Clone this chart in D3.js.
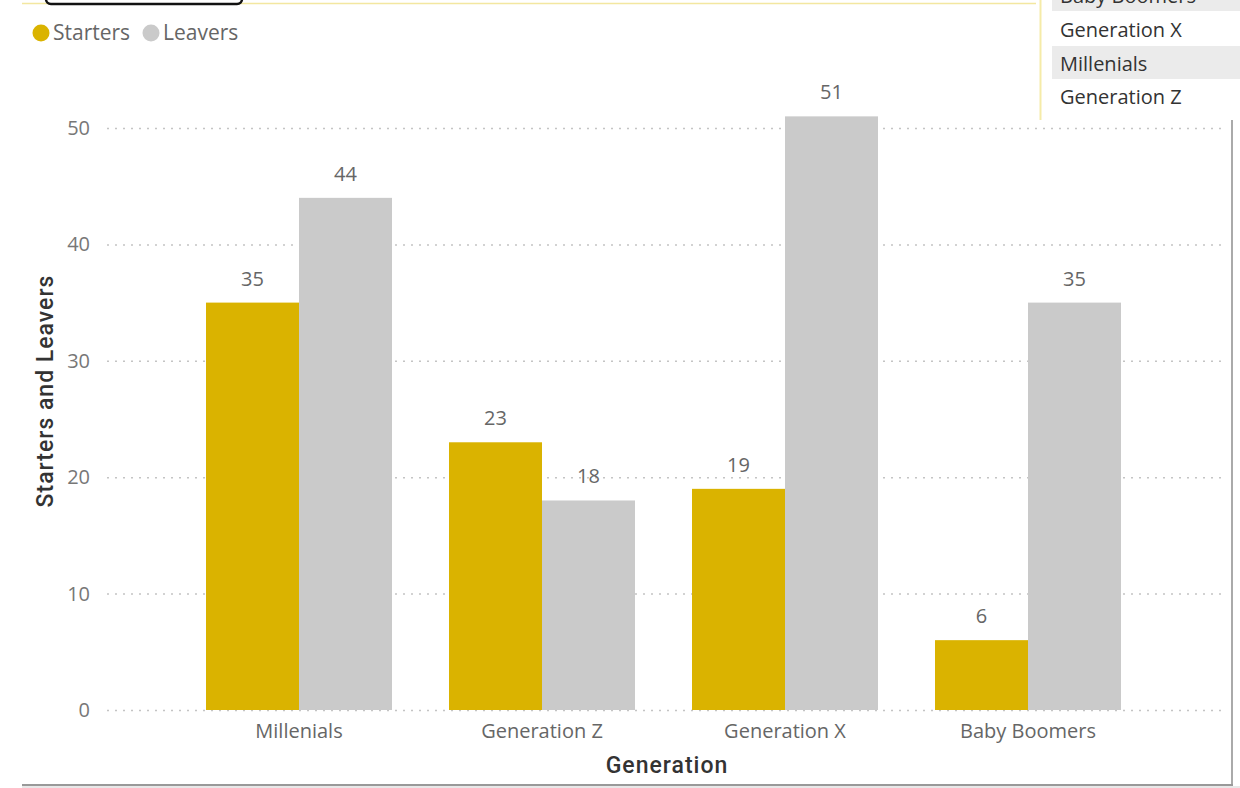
<!DOCTYPE html>
<html>
<head>
<meta charset="utf-8">
<script src="https://cdnjs.cloudflare.com/ajax/libs/d3/7.8.5/d3.min.js"></script>
<style>
  body { margin: 0; background: #fff; }
  svg { display: block; font-family: 'Open Sans', 'Noto Sans', sans-serif; }
</style>
</head>
<body>
<div id="chart"></div>
<script>
const generations = ['Millenials', 'Generation Z', 'Generation X', 'Baby Boomers'];
const starters = [35, 23, 19, 6];
const leavers = [44, 18, 51, 35];
const seriesNames = ['Starters', 'Leavers'];
const yTicks = [0, 10, 20, 30, 40, 50];
const slicerItems = ['Baby Boomers', 'Generation X', 'Millenials', 'Generation Z'];

const width = 1240;
const height = 788;
const colors = ['#dab300', '#cacaca'];

const svg = d3.select('#chart').append('svg')
  .attr('width', width)
  .attr('height', height);

// frame bits from the report canvas
svg.append('line')
  .attr('x1', 22).attr('x2', 1036).attr('y1', 3.5).attr('y2', 3.5)
  .attr('stroke', '#f3e7a0').attr('stroke-width', 1.5);
svg.append('rect')
  .attr('x', 46).attr('y', -20).attr('width', 196).attr('height', 24)
  .attr('rx', 5).attr('fill', '#fff').attr('stroke', '#111').attr('stroke-width', 2.5);
svg.append('line')
  .attr('x1', 1232).attr('x2', 1232).attr('y1', 120).attr('y2', 786)
  .attr('stroke', '#aaa').attr('stroke-width', 2);
svg.append('line')
  .attr('x1', 22).attr('x2', 1233).attr('y1', 785).attr('y2', 785)
  .attr('stroke', '#999').attr('stroke-width', 2);
svg.append('rect')
  .attr('x', 22).attr('y', 786).attr('width', 1218).attr('height', 2)
  .attr('fill', '#e8e8e8');

// slicer panel
const slicer = svg.append('g');
slicer.append('line')
  .attr('x1', 1040.5).attr('x2', 1040.5).attr('y1', 0).attr('y2', 120)
  .attr('stroke', '#f5eba8').attr('stroke-width', 2);
const rowY = [-22, 12, 46, 79];
slicerItems.forEach((name, i) => {
  if (i % 2 === 0) {
    slicer.append('rect')
      .attr('x', 1052).attr('y', rowY[i]).attr('width', 188).attr('height', 33)
      .attr('fill', '#ebebeb');
  }
  slicer.append('text')
    .attr('x', 1060).attr('y', rowY[i] + 25)
    .attr('font-size', 20).attr('fill', '#333')
    .text(name);
});

// legend
const legend = svg.append('g');
const legendX = [41, 151];
seriesNames.forEach((name, i) => {
  legend.append('circle')
    .attr('cx', legendX[i]).attr('cy', 33).attr('r', 8.5)
    .attr('fill', colors[i]);
  legend.append('text')
    .attr('x', legendX[i] + 12).attr('y', 40)
    .attr('font-size', 21).attr('fill', '#666')
    .text(name);
});

// scales
const y = d3.scaleLinear().domain([0, 50]).range([710, 128]);
const x0 = d3.scaleBand()
  .domain(generations)
  .range([177.5, 1149.5])
  .paddingInner(0.2346)
  .paddingOuter(0.1173);
const x1 = d3.scaleBand()
  .domain(seriesNames)
  .range([0, x0.bandwidth()]);

// gridlines
svg.append('g')
  .selectAll('line')
  .data(yTicks)
  .join('line')
  .attr('x1', 107).attr('x2', 1222)
  .attr('y1', d => y(d) + 0.5).attr('y2', d => y(d) + 0.5)
  .attr('stroke', '#c4c4c4').attr('stroke-width', 1.5)
  .attr('stroke-dasharray', '2,6');

// y axis
const yAxis = svg.append('g')
  .attr('transform', 'translate(90,0)')
  .call(d3.axisLeft(y).tickValues(yTicks).tickSize(0).tickPadding(0));
yAxis.select('.domain').remove();
yAxis.selectAll('text')
  .attr('font-size', 20).attr('fill', '#777')
  .attr('font-family', "'Open Sans', sans-serif");

// bars
const rows = generations.map((g, i) => ({ g, values: [starters[i], leavers[i]] }));
const groups = svg.append('g')
  .selectAll('g')
  .data(rows)
  .join('g')
  .attr('transform', d => `translate(${x0(d.g)},0)`);

groups.selectAll('rect')
  .data(d => d.values.map((v, i) => ({ key: seriesNames[i], v, i })))
  .join('rect')
  .attr('x', d => x1(d.key))
  .attr('y', d => y(d.v))
  .attr('width', x1.bandwidth())
  .attr('height', d => y(0) - y(d.v))
  .attr('fill', d => colors[d.i]);

groups.selectAll('text')
  .data(d => d.values.map((v, i) => ({ key: seriesNames[i], v })))
  .join('text')
  .attr('x', d => x1(d.key) + x1.bandwidth() / 2)
  .attr('y', d => y(d.v) - 17)
  .attr('text-anchor', 'middle')
  .attr('font-size', 20).attr('fill', '#666')
  .text(d => d.v);

// x axis
const xAxis = svg.append('g')
  .attr('transform', 'translate(0,710)')
  .call(d3.axisBottom(x0).tickSize(0).tickPadding(14));
xAxis.select('.domain').remove();
xAxis.selectAll('text')
  .attr('font-size', 20).attr('fill', '#666')
  .attr('font-family', "'Open Sans', sans-serif");

// axis titles
svg.append('text')
  .attr('x', 667).attr('y', 773)
  .attr('text-anchor', 'middle')
  .attr('font-size', 23).attr('font-weight', 500).attr('fill', '#333')
  .attr('letter-spacing', 1)
  .attr('font-family', "Roboto, sans-serif")
  .text('Generation');

svg.append('text')
  .attr('transform', 'translate(53,391) rotate(-90)')
  .attr('text-anchor', 'middle')
  .attr('font-size', 23).attr('font-weight', 500).attr('fill', '#333')
  .attr('letter-spacing', 1)
  .attr('font-family', "Roboto, sans-serif")
  .text('Starters and Leavers');
</script>
</body>
</html>
